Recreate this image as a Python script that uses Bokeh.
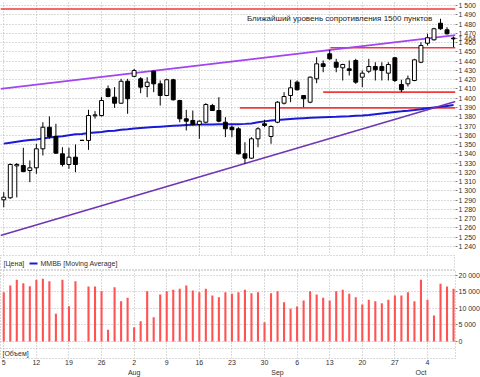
import pandas as pd
from bokeh.plotting import figure
from bokeh.layouts import column
from bokeh.models import Range1d, FixedTicker, LinearAxis, Span, ColumnDataSource
from bokeh.core.properties import value
from bokeh.embed import file_html
from bokeh.resources import INLINE

# ---------------- data ----------------
dates = pd.bdate_range("2010-07-05", "2010-10-08")

opens = [1290.4, 1292.6, 1327.0, 1327.4, 1322.0, 1324.9, 1345.4, 1368.7, 1358.7, 1340.0,
         1328.5, 1336.4, 1354.4, 1354.4, 1381.0, 1381.3, 1410.1, 1401.1, 1394.6, 1418.3,
         1423.6, 1420.9, 1412.6, 1429.1, 1415.5, 1402.9, 1419.9, 1397.5, 1377.8, 1376.0,
         1371.6, 1374.1, 1392.1, 1386.7, 1374.1, 1368.7, 1367.0, 1340.0, 1335.3, 1356.2,
         1372.4, 1358.7, 1374.1, 1394.6, 1402.9, 1417.3, 1402.9, 1395.7, 1420.9, 1437.1,
         1447.9, 1438.8, 1432.8, 1431.7, 1440.7, 1422.7, 1429.1, 1434.2, 1434.2, 1427.0,
         1443.6, 1414.8, 1415.5, 1419.1, 1438.8, 1459.3, 1463.0, 1480.9, 1473.8, 1465.0]
highs = [1298.6, 1329.5, 1330.0, 1346.5, 1332.8, 1350.8, 1374.1, 1380.3, 1372.4, 1347.1,
         1346.5, 1350.1, 1355.0, 1387.5, 1386.0, 1401.1, 1413.7, 1411.9, 1420.9, 1420.9,
         1431.7, 1422.7, 1422.7, 1429.9, 1419.1, 1420.9, 1420.9, 1398.3, 1387.5, 1386.7,
         1376.0, 1394.6, 1393.9, 1401.1, 1379.5, 1370.6, 1368.7, 1352.5, 1357.9, 1368.7,
         1376.7, 1370.6, 1396.8, 1406.5, 1419.9, 1419.1, 1402.9, 1423.4, 1444.2, 1440.7,
         1452.2, 1442.5, 1437.1, 1440.7, 1442.5, 1429.9, 1442.5, 1438.8, 1438.8, 1438.8,
         1444.2, 1419.9, 1424.5, 1442.5, 1460.4, 1469.5, 1475.9, 1485.7, 1476.6, 1466.5]
lows = [1282.4, 1291.5, 1293.0, 1320.0, 1309.4, 1318.4, 1338.2, 1356.2, 1340.0, 1326.3,
        1323.8, 1320.2, 1354.0, 1344.3, 1378.0, 1380.3, 1401.1, 1389.6, 1394.0, 1383.2,
        1422.7, 1405.4, 1401.1, 1406.5, 1392.1, 1402.9, 1397.5, 1374.1, 1365.2, 1370.6,
        1356.2, 1373.0, 1386.7, 1374.1, 1358.0, 1358.0, 1339.3, 1329.2, 1334.6, 1347.1,
        1368.7, 1350.8, 1373.0, 1393.2, 1395.7, 1408.3, 1390.3, 1394.6, 1416.2, 1428.0,
        1441.4, 1428.0, 1419.1, 1424.5, 1415.5, 1411.9, 1427.0, 1419.1, 1419.1, 1419.1,
        1417.3, 1406.5, 1412.6, 1418.3, 1437.8, 1456.9, 1462.2, 1473.8, 1468.7, 1455.0]
closes = [1293.2, 1328.5, 1328.5, 1320.9, 1324.9, 1345.4, 1368.7, 1358.7, 1340.7, 1328.5,
          1336.4, 1328.5, 1354.6, 1381.3, 1382.0, 1397.5, 1401.8, 1394.6, 1418.3, 1399.4,
          1429.9, 1411.9, 1417.3, 1415.5, 1402.9, 1419.9, 1398.3, 1377.8, 1375.2, 1371.6,
          1375.2, 1393.2, 1386.7, 1375.2, 1367.0, 1366.0, 1340.0, 1335.3, 1356.2, 1367.0,
          1370.6, 1369.5, 1395.7, 1401.8, 1411.2, 1409.1, 1399.4, 1422.7, 1437.1, 1434.2,
          1442.5, 1433.4, 1436.4, 1429.9, 1417.3, 1427.0, 1434.2, 1430.6, 1429.9, 1436.4,
          1419.1, 1409.1, 1420.9, 1441.4, 1456.9, 1465.2, 1474.9, 1474.9, 1469.5, 1464.0]
volumes = [14940, 16970, 18700, 17670, 16760, 18700, 19000, 18270, 8390, 18700,
           10700, 18270, 0, 16670, 16670, 15240, 3540, 16460, 12210, 13240,
           4330, 6150, 15240, 7360, 14240, 15240, 15670, 15970, 16970, 15450,
           14940, 15970, 13940, 13420, 14940, 14450, 14940, 15670, 14640, 14940,
           5850, 14640, 15240, 11910, 9910, 10610, 12420, 15240, 14240, 13240,
           12420, 15240, 15670, 14450, 13420, 11210, 12640, 12210, 11610, 12640,
           13940, 13940, 14940, 12210, 18700, 12640, 7880, 17480, 16670, 15970]
ma = [1351.0, 1352.0, 1353.0, 1354.0, 1355.0, 1355.5, 1356.5, 1357.5, 1358.5, 1359.0,
      1360.0, 1361.0, 1361.5, 1362.5, 1363.0, 1363.5, 1364.5, 1365.0, 1366.0, 1366.5,
      1367.3, 1367.8, 1368.3, 1368.8, 1369.3, 1369.8, 1370.2, 1370.6, 1371.0, 1371.3,
      1371.6, 1371.6, 1371.7, 1371.8, 1371.8, 1371.8, 1372.0, 1372.3, 1372.8, 1374.0,
      1375.0, 1376.0, 1376.5, 1377.0, 1377.5, 1378.0, 1378.4, 1378.8, 1379.2, 1379.5,
      1379.8, 1380.0, 1380.3, 1380.6, 1381.0, 1381.3, 1382.0, 1382.8, 1383.6, 1384.4,
      1385.2, 1385.8, 1386.5, 1387.3, 1388.2, 1389.2, 1390.0, 1390.8, 1391.7, 1392.6]

week_ticks = [0, 5, 10, 15, 20, 25, 30, 35, 40, 45, 50, 55, 60, 65]
week_labels = ["5", "12", "19", "26", "2", "9", "16", "23", "30", "6", "13", "20", "27", "4"]
month_ticks = [20, 42, 64]
month_labels = ["Aug", "Sep", "Oct"]
price_grid = list(range(1240, 1501, 10))
price_ticks = price_grid + [1464]
vol_ticks = [0, 5000, 10000, 15000, 20000]
vol_labels = ["0", "5 000", "10 000", "15 000", "20 000"]

resist_levels = [1496.3, 1454.4, 1406.5, 1389.6]
resist_start = [-0.5, 50.1, 49.0, 36.2]
upper_trend_x = [-0.5, 69.3]
upper_trend_y = [1410.1, 1468.0]
lower_trend_x = [-0.5, 69.3]
lower_trend_y = [1251.9, 1396.4]

note_text = "Ближайший уровень сопротивления 1500 пунктов"
FONT = "Liberation Sans"
X0, X1 = -0.5, 69.3
GRID_COLOR = "#b4b4b4"

x = list(range(len(dates)))

# ---------------- price panel ----------------
p = figure(frame_width=455, frame_height=255, x_range=Range1d(X0, X1),
           y_range=Range1d(1230.3, 1505.4), output_backend="svg",
           toolbar_location=None, x_axis_location=None, y_axis_location="right",
           min_border_left=0, min_border_top=0, min_border_bottom=0, min_border_right=0)
p.outline_line_color = None
p.background_fill_color = "white"
p.xgrid.ticker = FixedTicker(ticks=week_ticks)
p.ygrid.ticker = FixedTicker(ticks=price_grid)
for g in (p.xgrid, p.ygrid):
    g.grid_line_color = GRID_COLOR
    g.grid_line_dash = "1 2"
ax = p.yaxis[0]
ax.ticker = FixedTicker(ticks=price_ticks)
ax.major_label_overrides = {t: f"{t:,}".replace(",", " ") for t in price_ticks}
ax.major_label_text_font = FONT
ax.major_label_text_font_size = "7px"
ax.major_label_text_color = "#303030"
ax.axis_line_color = None
ax.major_tick_line_color = "#808080"
ax.major_tick_out = 2
ax.major_tick_in = 0
ax.minor_tick_line_color = None
ax.major_label_standoff = 1

# resistance lines
for lvl, st in zip(resist_levels, resist_start):
    p.line([st, X1], [lvl, lvl], line_color="#f03a3a", line_width=1.6)

# moving average
p.line(x, ma, line_color="#1a1ad6", line_width=2)
# trend lines
p.line(upper_trend_x, upper_trend_y, line_color="#a244f0", line_width=1.6)
p.line(lower_trend_x, lower_trend_y, line_color="#6f35b5", line_width=1.6)

# candles
src = ColumnDataSource(dict(
    x=x, o=opens, h=highs, l=lows, c=closes,
    top=[max(a, b) for a, b in zip(opens, closes)],
    bot=[min(a, b) for a, b in zip(opens, closes)],
    fill=["white" if c >= o else "black" for o, c in zip(opens, closes)],
))
p.segment("x", "h", "x", "l", source=src, line_color="black", line_width=1)
p.vbar(x="x", width=0.6, top="top", bottom="bot", source=src,
       fill_color="fill", line_color="black", line_width=1)

p.text(x=[37.3], y=[1486.5], text=[note_text], text_font=value(FONT),
       text_font_size="8px", text_baseline="middle", text_color="#1a1a1a")

# ---------------- legend strip ----------------
lg = figure(frame_width=455, frame_height=15, x_range=Range1d(0, 455), y_range=Range1d(0, 15),
            output_backend="svg", toolbar_location=None, x_axis_location=None,
            y_axis_location=None, min_border_left=0, min_border_top=0,
            min_border_bottom=0, min_border_right=0)
lg.grid.visible = False
lg.outline_line_color = GRID_COLOR
lg.outline_line_dash = "1 2"
lg.text(x=[3], y=[7], text=["[Цена]"], text_font=value(FONT), text_font_size="7px",
        text_baseline="middle", text_color="#303030")
lg.segment(x0=[29], y0=[7], x1=[37], y1=[7], line_color="#1a1ad6", line_width=2)
lg.text(x=[40], y=[7], text=["ММВБ [Moving Average]"], text_font=value(FONT),
        text_font_size="7px", text_baseline="middle", text_color="#303030")

# ---------------- volume panel ----------------
v = figure(frame_width=455, frame_height=88, x_range=p.x_range,
           y_range=Range1d(-5152, 21515), output_backend="svg",
           toolbar_location=None, x_axis_location="below", y_axis_location="right",
           min_border_left=0, min_border_top=0, min_border_bottom=0, min_border_right=0)
v.outline_line_color = GRID_COLOR
v.outline_line_dash = "1 2"
v.xgrid.ticker = FixedTicker(ticks=week_ticks)
v.ygrid.ticker = FixedTicker(ticks=vol_ticks)
for g in (v.xgrid, v.ygrid):
    g.grid_line_color = GRID_COLOR
    g.grid_line_dash = "1 2"

vax = v.yaxis[0]
vax.ticker = FixedTicker(ticks=vol_ticks)
vax.major_label_overrides = dict(zip(vol_ticks, vol_labels))

xax = v.xaxis[0]
xax.ticker = FixedTicker(ticks=week_ticks)
xax.major_label_overrides = dict(zip(week_ticks, week_labels))
xax.major_label_text_align = "left"

max_ = LinearAxis(ticker=FixedTicker(ticks=month_ticks),
                  major_label_overrides=dict(zip(month_ticks, month_labels)))
max_.major_label_text_align = "left"
v.add_layout(max_, "below")

for a in (vax, xax, max_):
    a.major_label_text_font = FONT
    a.major_label_text_font_size = "7px"
    a.major_label_text_color = "#303030"
    a.axis_line_color = None
    a.minor_tick_line_color = None
    a.major_tick_in = 0
vax.major_tick_out = 2
vax.major_tick_line_color = "#808080"
vax.major_label_standoff = 1
for a in (xax, max_):
    a.major_tick_out = 0
    a.major_tick_line_color = None
    a.major_label_standoff = 1

v.add_layout(Span(location=-2121, dimension="width", line_color=GRID_COLOR, line_dash="1 2"))
v.vbar(x=x, width=0.32, top=volumes, bottom=0, fill_color="#ff5252", line_color=None)
v.text(x=[X0 + 0.3], y=[-3700], text=["[Объем]"], text_font=value(FONT),
       text_font_size="7px", text_baseline="middle", text_color="#303030")

layout = column(p, lg, v, spacing=0)
open("out.html", "w").write(file_html(layout, INLINE))
